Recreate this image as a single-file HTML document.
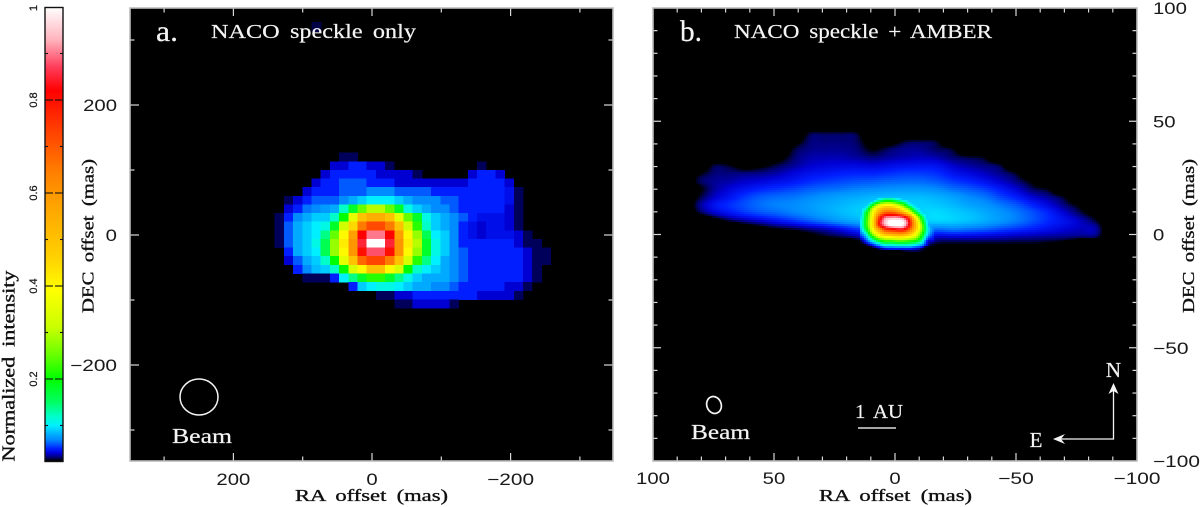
<!DOCTYPE html>
<html lang="en">
<head>
<meta charset="utf-8">
<title>NACO speckle and AMBER intensity maps</title>
<style>
html,body{margin:0;padding:0;background:#fff;width:1200px;height:507px;overflow:hidden}
svg{display:block}
.serif{font-family:"Liberation Serif","DejaVu Serif",serif}
.sans{font-family:"Liberation Sans","DejaVu Sans",sans-serif}
.lab{fill:#111;stroke:#111;stroke-width:.35;word-spacing:3.5px}
.wht{fill:#f4f4f4;stroke:#f4f4f4;stroke-width:.2;word-spacing:3.5px}
</style>
</head>
<body>
<svg id="fig" xmlns="http://www.w3.org/2000/svg" width="1200" height="507" viewBox="0 0 1200 507">
  <rect x="0" y="0" width="1200" height="507" fill="#fff"/>
  <rect x="130" y="8" width="483" height="453" fill="#000"/>
  <rect x="653" y="8" width="484" height="453" fill="#000"/>
  <g id="cellsA" shape-rendering="crispEdges"></g>
  <g id="cellsB" shape-rendering="crispEdges"></g>
  <g id="cbar" shape-rendering="crispEdges"></g>
  <rect x="45" y="7.5" width="18" height="454" fill="none" stroke="#111" stroke-width="1.4"/>
  <g id="axes"></g>
  <rect x="130" y="8" width="483" height="453" fill="none" stroke="#bdbdbd" stroke-width="1.6"/>
  <rect x="653" y="8" width="484" height="453" fill="none" stroke="#bdbdbd" stroke-width="1.6"/>

  <text class="serif lab" font-size="17.5" transform="translate(14.5,461.5) rotate(-90)" textLength="191" lengthAdjust="spacingAndGlyphs">Normalized intensity</text>
  <text class="serif lab" font-size="17" transform="translate(93.5,313) rotate(-90)" textLength="154" lengthAdjust="spacingAndGlyphs">DEC offset (mas)</text>
  <text class="serif lab" font-size="17" x="295" y="501" textLength="153" lengthAdjust="spacingAndGlyphs">RA offset (mas)</text>
  <text class="serif lab" font-size="17" x="819" y="501" textLength="153" lengthAdjust="spacingAndGlyphs">RA offset (mas)</text>
  <text class="serif lab" font-size="17" transform="translate(1194,313) rotate(-90)" textLength="154" lengthAdjust="spacingAndGlyphs">DEC offset (mas)</text>

  <text class="serif wht" font-size="30" x="156" y="41" textLength="22" lengthAdjust="spacingAndGlyphs">a.</text>
  <text class="serif wht" font-size="20" x="211" y="38" textLength="205" lengthAdjust="spacingAndGlyphs">NACO speckle only</text>
  <text class="serif wht" font-size="30" x="680" y="41" textLength="22" lengthAdjust="spacingAndGlyphs">b.</text>
  <text class="serif wht" font-size="20" x="734" y="38" textLength="258" lengthAdjust="spacingAndGlyphs">NACO speckle + AMBER</text>

  <ellipse cx="199" cy="397" rx="19" ry="18" fill="none" stroke="#f4f4f4" stroke-width="1.5"/>
  <text class="serif wht" font-size="21" x="172" y="443" textLength="60" lengthAdjust="spacingAndGlyphs">Beam</text>
  <ellipse cx="714" cy="405" rx="7.2" ry="8.6" transform="rotate(-20 714 405)" fill="none" stroke="#f4f4f4" stroke-width="1.7"/>
  <text class="serif wht" font-size="21" x="691" y="439" textLength="59" lengthAdjust="spacingAndGlyphs">Beam</text>
  <text class="serif wht" font-size="20" x="855" y="418" textLength="48" lengthAdjust="spacingAndGlyphs">1 AU</text>
  <line x1="858" y1="428" x2="896" y2="428" stroke="#dcdcdc" stroke-width="1.4"/>

  <path d="M1113.5 389V439H1058" fill="none" stroke="#f4f4f4" stroke-width="1.3"/>
  <path d="M1113.5 383L1118.5 394L1113.5 391L1108.5 394Z" fill="#f4f4f4"/>
  <path d="M1053 439L1065 434L1061 439L1065 444Z" fill="#f4f4f4"/>
  <text class="serif wht" font-size="21" x="1113.5" y="377" text-anchor="middle">N</text>
  <text class="serif wht" font-size="21" x="1036" y="447" text-anchor="middle">E</text>
</svg>
<script>
/* Colour scale: intensity (%) and channel values */
const colorStops = [2.4,2.8,3.2,4,5,6,7,8,10,12,15,20,25,31,39,46,57,64,74,82,87,93,100];
const colorR = [0,0,0,0,0,0,0,0,0,0,0,0,100,200,255,255,255,255,255,255,255,255,255];
const colorG = [0,0,0,0,30,90,140,170,240,255,255,255,255,255,255,210,165,130,60,0,60,180,255];
const colorB = [0,60,120,210,255,255,255,255,255,200,100,0,0,0,0,0,0,0,0,0,90,190,255];

/* Axis ticks */
const raTicksA = [300,200,100,0,-100,-200,-300];
const raLabelsA = [200,0,-200];
const decTicksA = [300,200,100,0,-100,-200,-300];
const decLabelsA = [200,0,-200];
const raTicksB = [90,80,70,60,50,40,30,20,10,0,-10,-20,-30,-40,-50,-60,-70,-80,-90];
const raLabelsB = [100,50,0,-50,-100];
const decTicksB = [90,80,70,60,50,40,30,20,10,0,-10,-20,-30,-40,-50,-60,-70,-80,-90];
const decLabelsB = [100,50,0,-50,-100];
const cbarTicks = [0.1,0.2,0.3,0.4,0.5,0.6,0.7,0.8,0.9];
const cbarLabels = [0.2,0.4,0.6,0.8,1];

/* Panel a: NACO speckle image, intensity (%) per detector pixel */
const cellMasA = 13.27;
const firstRaA = 140.35;
const firstDecA = 126.55;
const gridA = [
[0,0,0,0,0,0,0,3,3,0,0,0,0,0,0,0,0,0,0,0,0,0,0,0,0,0,0,0,0,0],
[0,0,0,0,0,0,4,4,5,5,4,4,3,0,0,0,0,0,0,0,0,0,3,0,0,0,0,0,0,0],
[0,0,0,0,0,4,5,5,5,5,5,4,4,4,4,3,0,0,0,0,0,4,5,5,4,0,0,0,0,0],
[0,0,0,0,4,5,5,6,6,6,5,5,5,4,4,4,4,4,4,4,4,5,5,5,5,4,0,0,0,0],
[0,0,0,4,5,5,5,6,6,6,7,7,7,6,6,6,6,5,5,5,5,5,5,5,5,4.5,3,0,0,0],
[0,3,4,5,6,6,6,7,8,9,10,10,10,9,8,7,7,7,6,6,5,5,5,5,5,4.5,3,0,0,0],
[0,4,5,6.5,7,7.5,8,12,18,25,30,30,25,18,11,9,8,7,7,6,5,5,5,5,5,4,3,0,0,0],
[3,5,7,8,9,9,12,20,35,50,55,55,50,35,25,18,11,9,8,7,6,5,4.5,4.5,4.5,4,3,0,0,0],
[3,6,8,9,10,11,18,32,45,65,72,72,65,50,32,22,12,9,8,7,5,4.5,4,4.5,4.5,4,3,0,0,0],
[3,6,8,9,10,14,25,40,58,82,90,90,82,58,40,28,16,10,9,7,5,4.5,4,4.5,4.5,4.5,4,3,0,0],
[3,6,8,9,11,16,28,42,60,85,100,100,85,60,42,30,18,11,9,7,5,5,5,5,5,5,4,3,3,0],
[0,5,8,9,10,16,28,40,60,80,88,88,80,60,40,28,18,11,9,7,6,5,5,5,5,5,5,4,3,3],
[0,4,6,8,9,12,20,35,50,68,73,73,65,50,33,22,14,10,8,7,6,5,5,5,5,5,5,4,3,3],
[0,0,5,7,8.5,9,12,20,33,40,50,50,40,33,20,12,10,9,8,7,6,5,5,5,5,5,5,4,3,0],
[0,0,0,3,3,3,5,10,14,18,22,22,18,14,11,9,8,8,8,7,6,5,5,5,5,5,5,4,3,0],
[0,0,0,0,0,0,0,0,5,9,10,11,11,10,9,8,8,7,7,6,5,5,5,5,5,4,4,3,0,0],
[0,0,0,0,0,0,0,0,0,0,0,3,3,4,4,5,5,5,5,5,5,5,4,4,4,4,3,0,0,0],
[0,0,0,0,0,0,0,0,0,0,0,0,0,3,3,4,4,4,4,3,0,0,0,0,0,0,0,0,0,0]
];
const speckRa = [80];
const speckDec = [320];
const speckValue = [2.85];

/* Panel b: reconstructed extended emission, intensity (%) at sample nodes */
const diskFirstRa = 88.84;
const diskStepRa = 6.61;
const diskFirstDec = 48.8;
const diskStepDec = 3.53;
const diskGrid = [
[0,0,0,0,0,0,0,0,0,0,0,0,0,0,0,0,0,0,0,0,0,0,0,0,0,0,0,0],
[0,0,0,0,0,0,0,0,2.6,2.8,2.8,2.6,0,0,0,0,0,0,0,0,0,0,0,0,0,0,0,0],
[0,0,0,0,0,0,0,1.5,3.1,3.2,3.2,3,1.5,1.5,2.6,2.8,2.5,0,0,0,0,0,0,0,0,0,0,0],
[0,0,0,0,0,0,0,2.6,3.3,3.4,3.4,3.2,2.4,3,3.4,3.4,3,2.5,0,0,0,0,0,0,0,0,0,0],
[0,0,0,0,0,0,1.5,3,3.6,3.7,3.7,3.5,3.2,3.5,3.7,3.8,3.6,3.1,2.7,2.3,0,0,0,0,0,0,0,0],
[0,0,2.6,2.5,1.5,2,2.8,3.4,3.9,4.1,4.2,4.2,4.1,4.3,4.5,4.6,4.5,3.9,3.5,3.2,2.6,0,0,0,0,0,0,0],
[0,2,3.1,3.2,3.2,3.3,3.6,4.1,4.5,4.7,4.9,5,5,5.2,5.4,5.4,5.2,4.6,4.2,3.8,3.3,2.4,0,0,0,0,0,0],
[0,2.7,3.4,3.6,3.9,4.1,4.4,4.7,5.1,5.4,5.6,5.8,5.9,6.1,6.2,6.2,5.9,5.4,5,4.5,3.9,3.2,2,0,0,0,0,0],
[0,2,3.4,4.1,4.6,5,5.3,5.6,6,6.3,6.5,6.8,7,7.2,7.3,7.3,7,6.4,6,5.5,4.8,4,3,2.3,0,0,0,0],
[0,2.4,3.8,4.6,5.4,6,6.3,6.5,6.9,7.3,7.7,8,8.3,8.5,8.5,8.5,8.2,7.7,7,6.5,5.6,4.9,4,3.4,2.4,0,0,0],
[0,3,4.5,5.2,5.8,6.4,6.8,7,7.4,7.9,8.3,8.7,9,9,9,9,8.8,8.4,7.8,7.3,6.6,5.9,5,4.2,3.2,2,0,0],
[0,2.4,3.8,4.6,5.3,5.8,6.2,6.7,7.2,7.8,8.4,8.9,9.2,9,9,9.2,9.4,9,8.6,8,7.3,6.6,5.8,5,4,2.9,1.5,0],
[0,0,1.5,2.7,3.4,4,4.6,5.2,5.9,6.6,7.4,8,9,9,9,9,9.2,9,8.6,8,7.3,6.6,5.8,5.1,4.5,3.8,2.6,0],
[0,0,0,0,1.2,1.8,2.4,2.8,3.3,3.8,4.5,5.4,6,7,7,7,6.5,6.8,6.5,6.2,5.7,5.3,4.9,4.5,4.1,3.8,3.5,0],
[0,0,0,0,0,0,0,1,1.8,2.4,2.8,3.4,4.5,5,5,5,4,4,4,3.9,3.8,3.6,3.5,3.4,3.3,3.1,2.9,0],
[0,0,0,0,0,0,0,0,0,0,0,1,2,3,3.8,3.6,2.4,2.2,2.2,2.2,2.2,2.2,2.2,2,1.5,0,0,0],
[0,0,0,0,0,0,0,0,0,0,0,0,0,1,2.5,2.5,0,0,0,0,0,0,0,0,0,0,0,0]
];

/* Panel b: compact bright core, intensity (%) at finer sample nodes */
const coreFirstRa = 14.46;
const coreStepRa = 2.48;
const coreFirstDec = 17;
const coreStepDec = 1.766;
const coreGrid = [
[7,7,7,8,9,9,8,7,7,7,7,7,7],
[7,7,9,15,20,20,16,12,9,8,7,7,7],
[8,9,20,33,38,38,32,24,13,9,8,7,7],
[9,14,33,47,55,55,50,38,26,13,9,8,7],
[9,20,38,58,70,72,68,58,42,23,11,8.5,7],
[9.5,22,42,72,88,90,90,85,70,40,19,9,7],
[10,23,44,78,94,100,100,98,82,52,25,10,7],
[10,23,44,78,92,100,100,98,82,55,30,11,7],
[9,20,40,60,76,80,84,84,72,52,30,12,7],
[7,14,32,46,58,62,64,64,56,42,25,11,6],
[5,9,20,32,38,40,42,42,38,32,20,8,5],
[3,6,11,17,22,22,24,24,22,20,14,5,4],
[2,3,5,8,11,11,12,12,12,10,8,4,2],
[0,1,2,3,4,4.5,4.5,4.5,4.5,4,3,0,0]
];

/* Axis functions */
function raA(v){return 372-0.693*v;}
function decA(v){return 235-0.65*v;}
function raB(v){return 895-2.42*v;}
function decB(v){return 234.5-2.265*v;}
function cbarY(v){return 472-465*v;}

const NS='http://www.w3.org/2000/svg';
function mk(parent,tag,attrs){
  const e=document.createElementNS(NS,tag);
  for(const k in attrs){e.setAttribute(k,attrs[k]);}
  parent.appendChild(e);
  return e;
}
function colorOf(p){
  const n=colorStops.length;
  if(p<=colorStops[0])return 'rgb(0,0,0)';
  if(p>=colorStops[n-1])return 'rgb(255,255,255)';
  let i=0;
  while(colorStops[i+1]<p)i++;
  const t=(p-colorStops[i])/(colorStops[i+1]-colorStops[i]);
  const r=Math.round(colorR[i]+t*(colorR[i+1]-colorR[i]));
  const g=Math.round(colorG[i]+t*(colorG[i+1]-colorG[i]));
  const b=Math.round(colorB[i]+t*(colorB[i+1]-colorB[i]));
  return 'rgb('+r+','+g+','+b+')';
}
function cubic(a,b,c,d,t){
  return b+0.5*t*(c-a+t*(2*a-5*b+4*c-d+t*(3*(b-c)+d-a)));
}
function sampleGrid(grid,fx,fy){
  const h=grid.length,w=grid[0].length;
  const ix=Math.floor(fx),iy=Math.floor(fy),tx=fx-ix,ty=fy-iy;
  const rowv=[];
  for(let j=-1;j<=2;j++){
    const row=grid[Math.min(h-1,Math.max(0,iy+j))];
    const p=[];
    for(let i=-1;i<=2;i++){p.push(row[Math.min(w-1,Math.max(0,ix+i))]);}
    rowv.push(cubic(p[0],p[1],p[2],p[3],tx));
  }
  return Math.max(0,cubic(rowv[0],rowv[1],rowv[2],rowv[3],ty));
}

/* Panel a cells */
const cellsA=document.getElementById('cellsA');
gridA.forEach(function(row,r){
  row.forEach(function(val,c){
    if(val<=0)return;
    const x0=raA(firstRaA-c*cellMasA),x1=raA(firstRaA-(c+1)*cellMasA);
    const y0=decA(firstDecA-r*cellMasA),y1=decA(firstDecA-(r+1)*cellMasA);
    const cell=mk(cellsA,'rect',{x:x0.toFixed(1),y:y0.toFixed(1),width:(x1-x0+0.4).toFixed(1),height:(y1-y0+0.4).toFixed(1),fill:colorOf(val)});
    
    
  });
});
speckRa.forEach(function(ra,i){
  const spot=mk(cellsA,'rect',{x:(raA(ra)-5).toFixed(1),y:(decA(speckDec[i])-5).toFixed(1),width:10,height:10,fill:colorOf(speckValue[i])});
  
  
});

/* Panel b cells, resampled to a 2 px raster from both sample grids */
const cellsB=document.getElementById('cellsB');
const pxW=2/2.42,pxH=2/2.265;
const diskRows=diskGrid.length-1,diskCols=diskGrid[0].length-1;
const coreRows=coreGrid.length-1,coreCols=coreGrid[0].length-1;
for(let dec=diskFirstDec;dec>diskFirstDec-diskRows*diskStepDec;dec-=pxH){
  for(let ra=diskFirstRa;ra>diskFirstRa-diskCols*diskStepRa;ra-=pxW){
    const fx=(diskFirstRa-ra)/diskStepRa,fy=(diskFirstDec-dec)/diskStepDec;
    let v=sampleGrid(diskGrid,fx,fy);
    const gx=(coreFirstRa-ra)/coreStepRa,gy=(coreFirstDec-dec)/coreStepDec;
    if(gx>=0&&gy>=0&&gx<=coreCols&&gy<=coreRows){
      v=Math.max(v,sampleGrid(coreGrid,gx,gy));
    }
    if(v<2.4)continue;
    const pix=mk(cellsB,'rect',{x:Math.round(raB(ra)),y:Math.round(decB(dec)),width:2,height:2,fill:colorOf(v)});
    
    
  }
}

/* Colourbar */
const cbar=document.getElementById('cbar');
for(let y=8;y<461;y++){
  const band=mk(cbar,'rect',{x:45,y:y,width:18,height:1,fill:colorOf(100*(472-y-0.5)/465)});
  
  
}

/* Ticks and tick labels */
const axes=document.getElementById('axes');
function line(x1,y1,x2,y2,col,w){
  return mk(axes,'line',{x1:x1,y1:y1,x2:x2,y2:y2,stroke:col,'stroke-width':w});
}
function tickText(x,y,v,anchor){
  const s=String(Math.abs(v));
  const str=(v<0?'\u2212':'')+s;
  const len=11.3*s.length+(v<0?13:0);
  const t=mk(axes,'text',{x:x,y:y,'text-anchor':anchor,'font-size':16.5,textLength:len,lengthAdjust:'spacingAndGlyphs',fill:'#1a1a1a',class:'sans'});
  t.textContent=str;
  return t;
}
const tickCol='#d8d8d8';
raTicksA.forEach(function(v){
  const x=raA(v),len=(v%200===0)?8:4.5;
  const a=line(x,461,x,461-len,tickCol,1.2);
  
  
  const b=line(x,8,x,8+len,tickCol,1.2);
  
  
});
decTicksA.forEach(function(v){
  const y=decA(v),len=(v%200===0)?9:4.5;
  const a=line(130,y,130+len,y,tickCol,1.2);
  
  
  const b=line(613,y,613-len,y,tickCol,1.2);
  
  
});
raLabelsA.forEach(function(v){
  const t=tickText(raA(v),485,v,'middle');
  
  
});
decLabelsA.forEach(function(v){
  const t=tickText(117,decA(v)+6,v,'end');
  
  
});
raTicksB.forEach(function(v){
  const x=raB(v),len=(v%50===0)?8:4.5;
  const a=line(x,461,x,461-len,tickCol,1.2);
  
  
  const b=line(x,8,x,8+len,tickCol,1.2);
  
  
});
decTicksB.forEach(function(v){
  const y=decB(v),len=(v%50===0)?8:4.5;
  const a=line(653,y,653+len,y,tickCol,1.2);
  
  
  const b=line(1137,y,1137-len,y,tickCol,1.2);
  
  
});
raLabelsB.forEach(function(v){
  const t=tickText(raB(v),484,v,'middle');
  
  
});
decLabelsB.forEach(function(v){
  const t=tickText(1153,decB(v)+6,v,'start');
  
  
});
cbarTicks.forEach(function(v,i){
  const y=cbarY(v),len=(i%2===1)?8:3;
  const a=line(45,y,45+len,y,'#111',1.1);
  
  
  const b=line(63,y,63-len,y,'#111',1.1);
  
  
});
cbarLabels.forEach(function(v){
  const y=v===1?8:cbarY(v);
  const t=mk(axes,'text',{transform:'translate(37,'+y.toFixed(1)+') rotate(-90)','text-anchor':'middle','font-size':11,fill:'#1a1a1a',stroke:'#1a1a1a','stroke-width':0.25,class:'sans'});
  t.textContent=String(v);
  
  
});
</script>
</body>
</html>
